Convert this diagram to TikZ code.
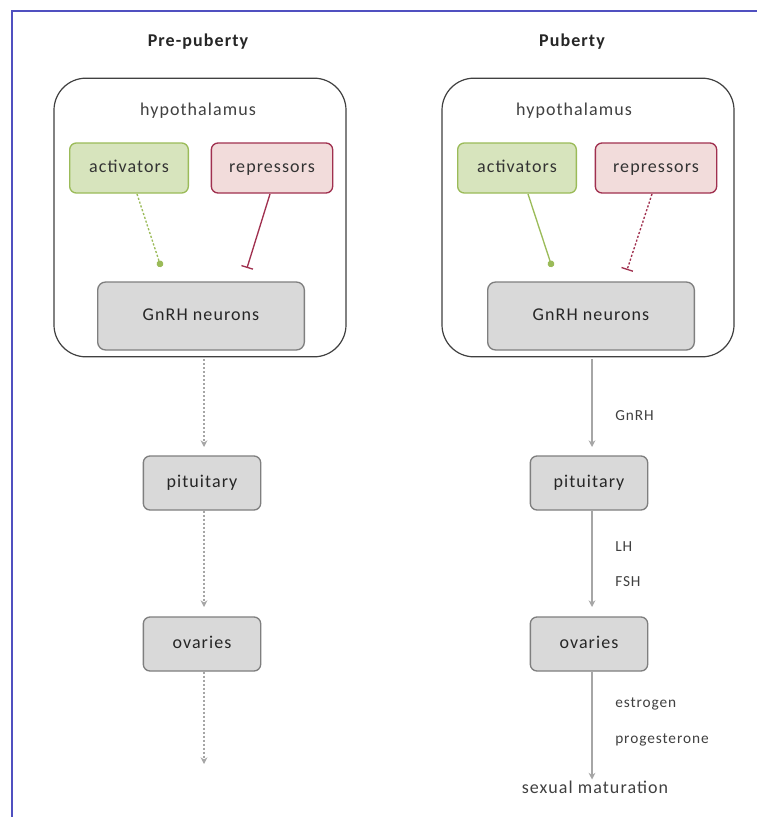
\documentclass[tikz,border=0pt]{standalone}
\usepackage{fontspec}
\setmainfont{Carlito}[LetterSpace=6]
\usetikzlibrary{arrows.meta}
\definecolor{grnfill}{HTML}{D7E4BD}
\definecolor{grnline}{HTML}{9BBB59}
\definecolor{pnkfill}{HTML}{F2DCDB}
\definecolor{redline}{HTML}{A0304F}
\definecolor{gryfill}{HTML}{D9D9D9}
\definecolor{gryline}{HTML}{7F7F7F}
\definecolor{arrgray}{HTML}{A6A6A6}
\definecolor{frameblue}{HTML}{5050C0}
\tikzset{
  boxfont/.style={font=\fontsize{13.5}{16}\selectfont, text height=0.7em, text depth=0.02em},
  hypobox/.style={draw=black!75, line width=0.9pt, rounded corners=24pt, minimum width=219pt, minimum height=209pt},
  actbox/.style={boxfont, draw=grnline, fill=grnfill, line width=1pt, rounded corners=5pt, minimum width=89pt, minimum height=37.5pt, text=black!80},
  repbox/.style={boxfont, draw=redline, fill=pnkfill, line width=1pt, rounded corners=5pt, minimum width=91pt, minimum height=37.5pt, text=black!80},
  gnrhbox/.style={boxfont, draw=gryline, fill=gryfill, line width=1pt, rounded corners=6pt, minimum width=155pt, minimum height=51pt, text=black!85},
  organbox/.style={boxfont, draw=gryline, fill=gryfill, line width=1pt, rounded corners=5pt, minimum width=88pt, minimum height=40.5pt, text=black!85},
  plain/.style={boxfont, text=black!75},
  small/.style={font=\fontsize{11.5}{13}\selectfont, text=black!75, anchor=west, inner sep=0pt},
  titletext/.style={font=\bfseries\fontsize{13.5}{16}\selectfont, text=black!85},
  actline/.style={draw=grnline, line width=1pt, -{Circle[length=5pt]}},
  repline/.style={draw=redline, line width=1pt, -{Bar[width=9pt,line width=1pt]}},
  flow/.style={draw=arrgray, line width=1pt, -{Stealth[length=5pt,width=5pt]}},
  dots/.style={dash pattern=on 1.6pt off 1.4pt},
}
\begin{document}
\begin{tikzpicture}[x=0.75pt,y=-0.75pt]
\useasboundingbox (0,0) rectangle (757,817);
\fill[white] (0,0) rectangle (757,817);
\draw[frameblue, line width=0.8pt] (12,817) -- (12,11) -- (757,11);

% titles
\node[titletext] (tL) at (198,42) {Pre-puberty};
\node[titletext] (tR) at (572,42) {Puberty};

% hypothalamus boxes
\node[hypobox] (hypL) at (200,217.5) {};
\node[hypobox] (hypR) at (588,217.5) {};
\node[plain] (hyL) at (198,111) {hypothalamus};
\node[plain] (hyR) at (574,111) {hypothalamus};

% left inner
\node[actbox] (actL) at (129,168) {activators};
\node[repbox] (repL) at (272,168) {repressors};
\node[gnrhbox] (gnL) at (201,316) {GnRH neurons};
\coordinate (aLe) at (161,267);
\coordinate (rLe) at (247,268);
\draw[actline, dots] (137,194) -- (aLe);
\draw[repline] (270,194) -- (rLe);

% right inner
\node[actbox] (actR) at (517,168) {activators};
\node[repbox] (repR) at (656,168) {repressors};
\node[gnrhbox] (gnR) at (591,316) {GnRH neurons};
\coordinate (aRe) at (552,267);
\coordinate (rRe) at (627,270);
\draw[actline] (528,194) -- (aRe);
\draw[repline, dots] (652,194) -- (rRe);

% left chain
\node[organbox] (pitL) at (202,483) {pituitary};
\node[organbox] (ovL) at (202,644) {ovaries};
\coordinate (endL) at (204,764);
\draw[flow, dots] (204,359) -- (204,447);
\draw[flow, dots] (pitL.south -| 204,0) -- (204,607);
\draw[flow, dots] (ovL.south -| 204,0) -- (endL);

% right chain
\node[organbox] (pitR) at (589,483) {pituitary};
\node[organbox] (ovR) at (589,644) {ovaries};
\node[plain] (sexm) at (595,789) {sexual maturation};
\draw[flow] (592,359) -- (592,447);
\draw[flow] (pitR.south -| 592,0) -- (592,607);
\draw[flow] (ovR.south -| 592,0) -- (sexm.north -| 592,0);

\node[small] (lGn) at (615,416) {GnRH};
\node[small] (lLH) at (615,547) {LH};
\node[small] (lFSH) at (615,582) {FSH};
\node[small] (lEst) at (615,704) {estrogen};
\node[small] (lPro) at (615,740) {progesterone};
\end{tikzpicture}
\end{document}
